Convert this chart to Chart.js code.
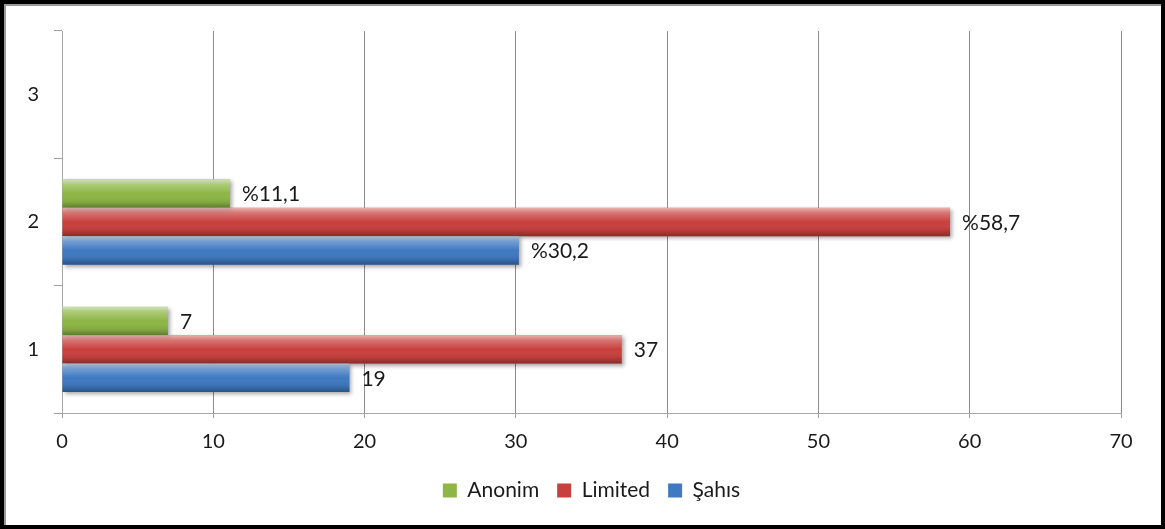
<!DOCTYPE html>
<html>
<head>
<meta charset="utf-8">
<script src="https://cdn.jsdelivr.net/npm/chart.js@4"></script>
<style>
  html, body { margin: 0; padding: 0; background: #fff; }
  #wrap { position: relative; width: 1165px; height: 529px; }
  #frame {
    position: absolute; left: 0; top: 0; width: 1165px; height: 529px;
    box-sizing: border-box; border: 4px solid #000;
    box-shadow: inset 2px 2px 0 #9a9a9a;
    pointer-events: none;
  }
</style>
</head>
<body>
<div id="wrap">
  <canvas id="chart"></canvas>
  <div id="frame"></div>
</div>
<script>
// Şirket türlerine göre dağılım (yatay çubuk)
const categories    = ["1", "2", "3"];
const anonimValues  = [7, 11.1, null];
const limitedValues = [37, 58.7, null];
const sahisValues   = [19, 30.2, null];
const anonimLabels  = ["7", "%11,1", ""];
const limitedLabels = ["37", "%58,7", ""];
const sahisLabels   = ["19", "%30,2", ""];
const xTicks = [0, 10, 20, 30, 40, 50, 60, 70];

const FONT = "Lato, 'Open Sans', sans-serif";

// bars: soft shadow, bevel-like shading and value labels
const barStyle = {
  id: "barStyle",
  beforeDatasetsDraw(chart) {
    const ctx = chart.ctx;
    ctx.save();
    ctx.shadowColor = "rgba(0,0,0,0.35)";
    ctx.shadowBlur = 4;
    ctx.shadowOffsetX = 2;
    ctx.shadowOffsetY = 2;
  },
  afterDatasetsDraw(chart) {
    const ctx = chart.ctx;
    ctx.restore();
    const labelSets = [anonimLabels, limitedLabels, sahisLabels];
    chart.data.datasets.forEach((ds, di) => {
      const meta = chart.getDatasetMeta(di);
      meta.data.forEach((el, i) => {
        if (ds.data[i] == null) return;
        const top = el.y - el.height / 2;
        const bot = el.y + el.height / 2;
        const left = Math.min(el.base, el.x), right = Math.max(el.base, el.x);
        const g = ctx.createLinearGradient(0, top, 0, bot);
        g.addColorStop(0, "rgba(255,255,255,0.6)");
        g.addColorStop(0.18, "rgba(255,255,255,0.28)");
        g.addColorStop(0.5, "rgba(255,255,255,0)");
        g.addColorStop(0.8, "rgba(0,0,0,0.08)");
        g.addColorStop(1, "rgba(0,0,0,0.32)");
        ctx.save();
        ctx.fillStyle = g;
        ctx.fillRect(left, top, right - left, bot - top);
        ctx.restore();

        const txt = labelSets[di][i];
        if (!txt) return;
        ctx.save();
        ctx.font = "21px " + FONT;
        ctx.fillStyle = "#1a1a1a";
        ctx.textAlign = "left";
        ctx.textBaseline = "middle";
        ctx.fillText(txt, right + 12, el.y + 1);
        ctx.restore();
      });
    });
  }
};

new Chart(document.getElementById("chart"), {
  type: "bar",
  data: {
    labels: categories,
    datasets: [
      { label: "Anonim",  data: anonimValues,  backgroundColor: "#8db645" },
      { label: "Limited", data: limitedValues, backgroundColor: "#c8403d" },
      { label: "Şahıs",   data: sahisValues,   backgroundColor: "#3f79c1" }
    ]
  },
  options: {
    indexAxis: "y",
    responsive: true,
    maintainAspectRatio: false,
    animation: false,
    categoryPercentage: 0.67,
    barPercentage: 1,
    layout: { padding: { left: 0, top: 31, right: 44, bottom: 18 } },
    scales: {
      x: {
        min: 0,
        max: 70,
        afterBuildTicks(scale) { scale.ticks = xTicks.map(v => ({ value: v })); },
        afterFit(scale) { scale.height = 49; },
        grid: { color: "#8c8c8c", tickLength: 5, tickColor: "#a0a0a0" },
        border: { color: "#a8a8a8" },
        ticks: { color: "#1a1a1a", font: { family: FONT, size: 20 }, padding: 12 }
      },
      y: {
        reverse: true,
        offset: true,
        afterFit(scale) { scale.width = 62; },
        grid: { offset: true, drawOnChartArea: false, tickLength: 8, color: "#a0a0a0" },
        border: { color: "#a8a8a8" },
        ticks: { color: "#1a1a1a", font: { family: FONT, size: 20 }, padding: 15 }
      }
    },
    plugins: {
      legend: {
        position: "bottom",
        fullSize: false,
        labels: {
          color: "#1a1a1a",
          font: { family: FONT, size: 21 },
          boxWidth: 14,
          boxHeight: 14,
          padding: 18
        }
      },
      tooltip: { enabled: false }
    }
  },
  plugins: [barStyle]
});
</script>
</body>
</html>
